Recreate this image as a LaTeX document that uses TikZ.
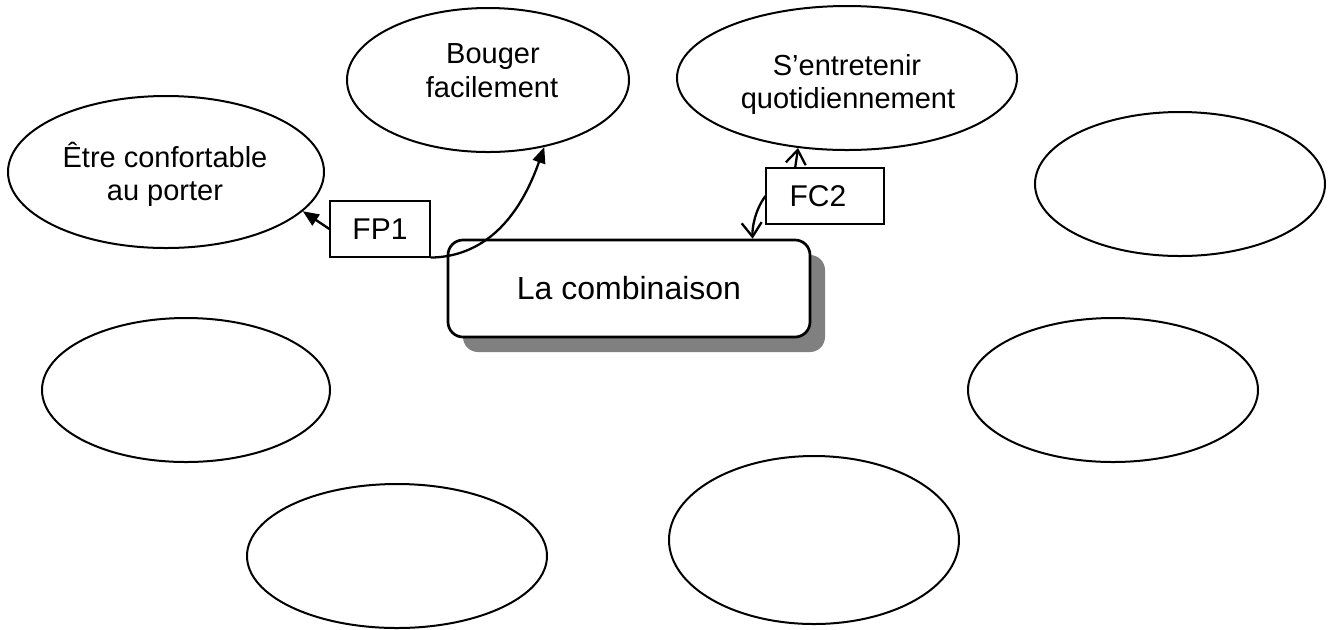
\documentclass[tikz,border=0pt]{standalone}
\usepackage{fontspec}
\setmainfont{Liberation Sans}
\usetikzlibrary{shapes.geometric,arrows.meta,calc}
\definecolor{shadowgray}{RGB}{128,128,128}
\begin{document}
\begin{tikzpicture}[x=0.5pt,y=-0.5pt,
  ell/.style={draw,line width=1pt,ellipse,inner sep=0pt,fill=white},
  txt/.style={anchor=base,inner sep=0pt,font=\fontsize{14.5}{16.5}\selectfont},
  lbl/.style={draw,line width=0.55pt,inner sep=0pt,fill=white,minimum height=28pt,font=\fontsize{15}{17}\selectfont},
  mainbox/.style={draw,line width=1.35pt,rounded corners=7.5pt,fill=white,minimum width=181pt,minimum height=48.5pt,inner sep=0pt,font=\fontsize{16}{18}\selectfont},
  shadowbox/.style={fill=shadowgray,rounded corners=7.5pt,minimum width=181pt,minimum height=48.5pt,inner sep=0pt},
  con/.style={line width=1.15pt},
  filltip/.style={-{Triangle[length=8pt,width=6.5pt]}},
  opentip/.style={-{Straight Barb[length=7pt,width=10pt]}}]
\useasboundingbox (0,0) rectangle (1335,629);

% ellipses
\node[ell,minimum width=158pt,minimum height=76pt] (e1) at (166,172) {};
\node[ell,minimum width=141pt,minimum height=72pt] (e2) at (488,80) {};
\node[ell,minimum width=170pt,minimum height=72pt] (e3) at (847,78) {};
\node[ell,minimum width=145pt,minimum height=72pt] (e4) at (1180,184) {};
\node[ell,minimum width=144pt,minimum height=72pt] (e5) at (186,390) {};
\node[ell,minimum width=145pt,minimum height=72pt] (e6) at (1113,390) {};
\node[ell,minimum width=150pt,minimum height=72pt] (e7) at (397,556) {};
\node[ell,minimum width=145pt,minimum height=84pt] (e8) at (814,540) {};

% ellipse texts
\node[txt] (t1a) at (165,167) {Être confortable};
\node[txt] (t1b) at (165,200) {au porter};
\node[txt] (t2a) at (493,63) {Bouger};
\node[txt] (t2b) at (492,97) {facilement};
\node[txt] (t3a) at (847,75) {S’entretenir};
\node[txt] (t3b) at (848,108) {quotidiennement};

% main box with shadow
\node[shadowbox] (mainshadow) at (644,303.5) {};
\node[mainbox] (main) at (629,288.5) {La combinaison};

% function labels
\node[lbl,minimum width=50pt] (fp1) at (380,229) {FP1};
\node[lbl,minimum width=59pt] (fc2) at (825,196) {FC2\hspace*{7pt}};

% connectors
\draw[con,filltip] (fp1.west) -- (e1.-16);
\draw[con,filltip] (fp1.south east) .. controls (475,257) and (515,230) .. (e2.-50);
\draw[con,opentip] ($(fc2.north west)!0.25!(fc2.north east)$) -- (e3.235);
\draw[con,opentip] (fc2.west) .. controls (755,210) and (752,228) .. ($(main.north west)+(306,0)$);
\end{tikzpicture}
\end{document}
